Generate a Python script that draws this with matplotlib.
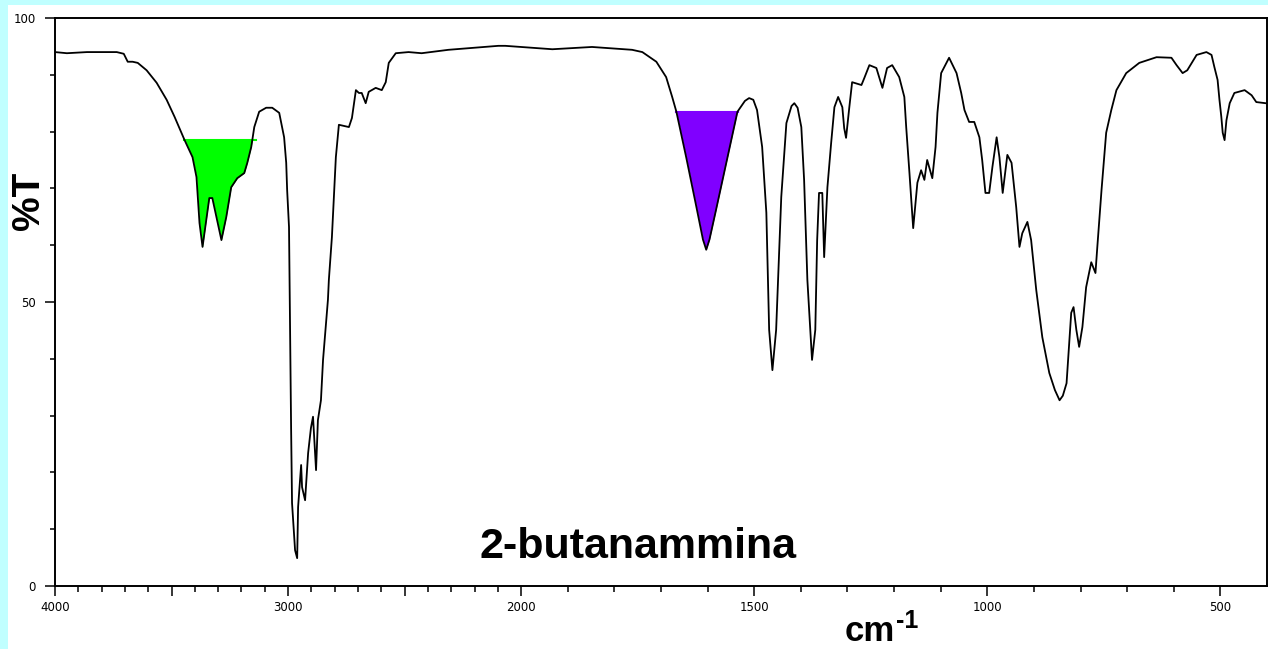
import numpy as np
import matplotlib
matplotlib.use("Agg")
import matplotlib.pyplot as plt
from matplotlib.patches import Rectangle

# figure size in pixels (dpi 100)
W, H = 1268, 649

# spectrum: wavenumber (cm-1) and %T
wavenumber = [4000, 3949, 3863, 3735, 3705, 3688, 3667, 3645, 3607, 3564,
              3521, 3487, 3444, 3410, 3393, 3380, 3367, 3338, 3325, 3286,
              3265, 3244, 3218, 3188, 3175, 3158, 3145, 3124, 3094, 3068,
              3038, 3017, 3008, 3004, 2996, 2987, 2983, 2970, 2961, 2957,
              2944, 2940, 2927, 2914, 2902, 2893, 2880, 2872, 2859, 2850,
              2837, 2829, 2825, 2812, 2795, 2782, 2739, 2726, 2709, 2696,
              2684, 2667, 2654, 2624, 2598, 2581, 2568, 2538, 2483, 2427,
              2312, 2098, 2068, 1933, 1848, 1762, 1740, 1710, 1689, 1676,
              1667, 1646, 1624, 1610, 1603, 1596, 1582, 1560, 1536, 1520,
              1511, 1502, 1494, 1483,
              1474, 1468, 1461, 1453, 1442, 1431, 1420, 1414, 1407, 1399,
              1393, 1386,
              1376, 1369, 1365, 1361, 1354, 1350, 1343, 1335, 1328, 1320,
              1311, 1307, 1303, 1296, 1290, 1270, 1264, 1253, 1238, 1225,
              1215, 1204, 1189, 1178, 1174, 1167, 1159, 1150, 1142, 1135,
              1129, 1118, 1111, 1107, 1099, 1082, 1066, 1056, 1049, 1039,
              1028, 1017, 1011, 1004, 996, 989, 980, 974, 967, 957,
              948, 938, 931, 925, 914, 906, 895, 882, 867, 855,
              845, 838, 830, 820, 815, 809, 803, 796, 788, 777,
              768, 764, 755, 745, 734, 723, 702, 674, 637, 605,
              594, 581, 571, 551, 530, 519, 513, 506, 502, 498,
              495, 491, 487, 480, 470, 448, 433, 423, 403]
transmittance = [94.0, 93.8, 94.0, 94.0, 93.7, 92.3, 92.3, 92.1, 90.8, 88.6,
                 85.6, 82.6, 78.5, 75.5, 72.0, 63.9, 59.7, 68.3, 68.3, 60.9,
                 65.0, 70.2, 71.8, 72.7, 74.5, 77.3, 80.8, 83.5, 84.2, 84.2,
                 83.3, 79.0, 74.5, 69.7, 63.2, 27.8, 14.6, 6.3, 4.9, 13.9,
                 21.3, 17.4, 15.1, 23.4, 27.8, 29.8, 20.4, 29.2, 32.7, 39.8,
                 46.5, 50.4, 53.9, 61.4, 75.5, 81.2, 80.8, 82.4, 87.3, 86.8,
                 86.8, 85.0, 87.0, 87.7, 87.3, 88.7, 92.1, 93.8, 94.0, 93.8,
                 94.4, 95.1, 95.1, 94.5, 94.9, 94.4, 94.0, 92.3, 89.6, 86.1,
                 83.5, 75.5, 66.7, 61.0, 59.2, 61.0, 66.2, 74.5, 83.5, 85.4,
                 85.9, 85.6, 83.8, 77.3,
                 65.7, 45.1, 38.0, 45.1, 68.5, 81.5, 84.5, 85.0, 84.2, 80.8,
                 71.5, 53.9,
                 39.8, 45.1, 60.9, 69.2, 69.2, 57.9, 70.2, 78.0, 84.3, 86.1,
                 84.3, 80.6, 78.9, 84.3, 88.7, 88.2, 89.4, 91.7, 91.2, 87.7,
                 91.2, 91.7, 89.6, 86.1, 80.8, 72.7, 63.0, 71.0, 73.2, 71.5,
                 75.0, 71.8, 77.3, 83.3, 90.3, 93.0, 90.3, 86.8, 83.8, 81.7,
                 81.7, 79.0, 75.0, 69.2, 69.2, 73.8, 79.0, 75.5, 69.2, 75.9,
                 74.5, 66.7, 59.7, 62.1, 64.1, 60.9, 52.1, 43.8, 37.5, 34.5,
                 32.7, 33.5, 35.7, 48.1, 49.1, 45.1, 42.1, 45.6, 52.6, 57.0,
                 55.1, 59.7, 69.7, 79.8, 83.8, 87.3, 90.3, 92.1, 93.1, 93.0,
                 91.7, 90.3, 90.8, 93.5, 94.0, 93.5, 91.4, 89.1, 85.6, 82.6,
                 79.8, 78.5, 82.0, 85.0, 86.8, 87.3, 86.4, 85.2, 85.0]

# highlighted bands: (high wavenumber, low wavenumber, %T level)
nh_band = (3445, 3137, 78.5)
nh2_band = (1668, 1535, 83.5)

x_major = [4000, 3500, 3000, 2500, 2000, 1500, 1000, 500]
x_labels = ["4000", "", "3000", "", "2000", "1500", "1000", "500"]
y_major = [0, 50, 100]
y_labels = ["0", "50", "100"]

nu = np.array(wavenumber, float)
T = np.array(transmittance, float)


# x axis: 4000-2000 is drawn at half the scale of 2000-400
def fwd(v):
    v = np.asarray(v, float)
    return np.where(v > 2000, 2000 + (v - 2000) / 2, v)


def inv(u):
    u = np.asarray(u, float)
    return np.where(u > 2000, 2000 + (u - 2000) * 2, u)


fig = plt.figure(figsize=(W / 100, H / 100), dpi=100, facecolor="#C0FFFF")
fig.add_artist(Rectangle((8 / W, 0), 1, (H - 5) / H, transform=fig.transFigure,
                         facecolor="white", edgecolor="none", zorder=-5))

ax = fig.add_axes([55 / W, 63 / H, 1212 / W, 568 / H])
ax.set_xscale("function", functions=(fwd, inv))
ax.set_xlim(4000, 400)
ax.set_ylim(0, 100)

for band, col in [(nh_band, "#00FF00"), (nh2_band, "#8000FF")]:
    hi, lo, level = band
    mask = (nu <= hi) & (nu >= lo) & (T <= level)
    ax.fill_between(nu, T, level, where=mask, interpolate=True,
                    color=col, lw=0, zorder=2)
    ax.plot([hi, lo], [level, level], color=col, lw=1.5, zorder=2)

ax.plot(nu, T, color="black", lw=1.3, zorder=3)

ax.set_xticks(x_major)
ax.set_xticklabels(x_labels)
ax.set_xticks(np.arange(3900, 400, -100), minor=True)
ax.set_yticks(y_major)
ax.set_yticklabels(y_labels)
ax.set_yticks(np.arange(10, 100, 10), minor=True)

ax.tick_params(axis="x", which="major", length=7.5, width=1.1, pad=3,
               labelsize=8.5)
ax.tick_params(axis="x", which="minor", length=4.3, width=1.1)
ax.tick_params(axis="y", which="major", length=7.2, width=1.1, pad=6.5,
               labelsize=8.5)
ax.tick_params(axis="y", which="minor", length=3.6, width=1.1)
for s in ax.spines.values():
    s.set_linewidth(1.4)

bold = dict(family=["Liberation Sans", "DejaVu Sans"], fontweight="bold",
            color="black")
fig.text(638 / W, 1 - 558 / H, "2-butanammina", fontsize=31, ha="center",
         va="baseline", **bold)
fig.text(28.5 / W, 1 - 201 / H, "%T", fontsize=28, rotation=90, ha="center",
         va="center", **bold)
fig.text(845 / W, 1 - 641 / H, "cm", fontsize=25, ha="left", va="baseline",
         **bold)
fig.text(896 / W, 1 - 628 / H, "-1", fontsize=18, ha="left", va="baseline",
         **bold)

fig.savefig("out.png", dpi=100, facecolor=fig.get_facecolor())
